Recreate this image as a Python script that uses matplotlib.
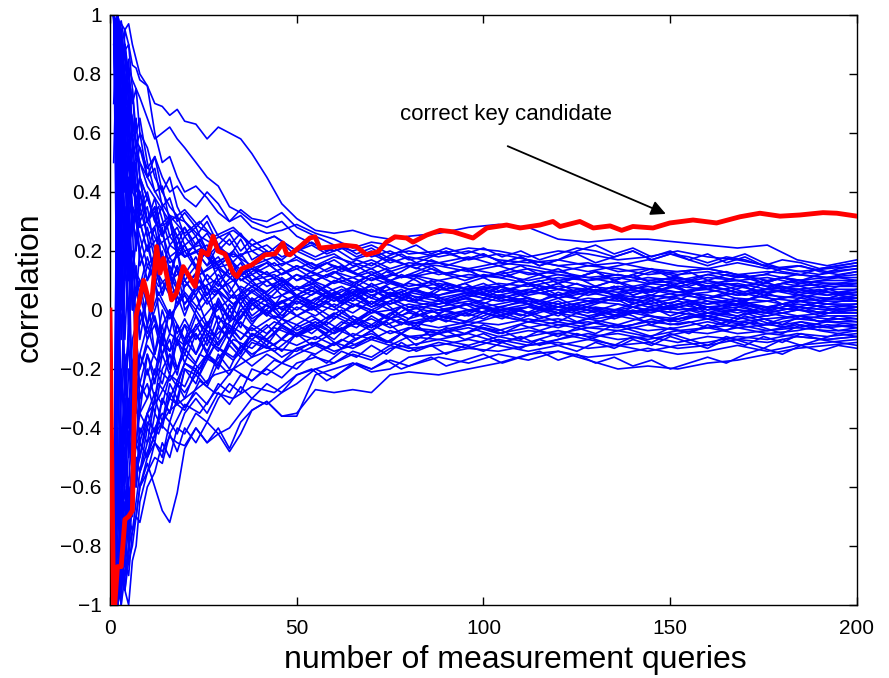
import numpy as np
import matplotlib
matplotlib.use('Agg')
import matplotlib.pyplot as plt

plt.rcParams['font.family'] = ['Liberation Sans', 'DejaVu Sans']

# 横轴采样点（查询次数）
queries = [1, 2, 3, 4, 5, 6, 7, 8, 10, 12, 14, 16, 18, 20, 23, 26, 29, 32, 35, 38,
           42, 46, 50, 55, 60, 65, 70, 75, 80, 88, 96, 104, 112, 120, 128, 136, 144,
           152, 160, 168, 176, 184, 192, 200]

# 错误密钥候选的相关系数曲线
wrong_keys = [
    [1, .97, .97, .95, .97, .9, .85, .8, .76, .7, .69, .66, .68, .64, .63, .58, .62, .6, .58, .53,
     .45, .36, .31, .27, .26, .27, .25, .24, .25, .26, .28, .29, .28, .24, .23, .24, .24, .23, .22, .21, .22, .17, .15, .17],
    [.9, 1, .95, .85, .82, .78, .75, .72, .65, .58, .6, .62, .58, .55, .5, .45, .42, .35, .33, .3,
     .28, .3, .25, .22, .2, .22, .18, .2, .17, .19, .21, .2, .18, .2, .19, .17, .18, .2, .18, .17, .15, .13, .14, .15],
    [1, .9, .85, .88, .9, .83, .82, .78, .76, .6, .5, .52, .45, .4, .42, .38, .33, .3, .34, .31,
     .3, .33, .28, .25, .22, .2, .22, .19, .2, .18, .2, .17, .16, .17, .15, .16, .14, .13, .14, .12, .13, .12, .11, .13],
    [.7, 1, .6, .75, .55, .6, .5, .55, .48, .52, .45, .4, .42, .38, .35, .4, .36, .3, .32, .28,
     .26, .27, .29, .26, .24, .21, .23, .22, .19, .2, .17, .19, .17, .15, .16, .13, .14, .12, .13, .11, .12, .1, .11, .12],
    [-1, -.5, .2, .6, .7, .65, .55, .5, .45, .48, .35, .38, .3, .33, .28, .32, .25, .22, .26, .2,
     .22, .18, .2, .17, .19, .15, .17, .14, .16, .15, .13, .15, .12, .13, .11, .12, .1, .11, .09, .1, .11, .09, .1, .1],
    [1, .8, .4, .2, .35, .1, .25, .3, .2, .28, .15, .22, .25, .18, .2, .15, .18, .12, .16, .1,
     .13, .08, .12, .1, .13, .09, .12, .1, .08, .1, .07, .09, .08, .1, .08, .07, .09, .1, .08, .09, .07, .08, .09, .09],
    [-1, -.6, -.3, .1, .4, .5, .35, .45, .38, .3, .35, .25, .28, .22, .25, .18, .22, .15, .19, .14,
     .16, .12, .15, .12, .15, .13, .1, .12, .11, .13, .11, .12, .14, .12, .1, .11, .09, .08, .1, .08, .09, .07, .08, .08],
    [1, .6, .1, -.2, -.1, .15, .05, .2, .1, .15, .05, .12, .02, .08, .12, .05, .1, .04, .08, .06,
     .1, .05, .08, .06, .1, .08, .05, .07, .09, .07, .06, .08, .05, .07, .06, .08, .07, .05, .06, .08, .06, .07, .05, .07],
    [-1, -.9, -.7, -.5, -.6, -.35, -.45, -.3, -.25, -.35, -.2, -.15, -.22, -.1, -.15, -.05, -.1, 0, -.06, .02,
     -.02, .03, 0, .04, .01, .05, .02, .06, .03, .05, .07, .04, .06, .05, .07, .06, .08, .06, .07, .05, .06, .07, .06, .06],
    [1, 1, .9, .7, .5, .55, .3, .4, .25, .1, .2, .05, .15, 0, .05, -.05, .02, -.08, -.02, .03,
     -.02, .05, .02, .06, .03, .07, .04, .02, .05, .03, .06, .04, .02, .05, .03, .05, .04, .06, .05, .03, .05, .04, .06, .05],
    [-1, -1, -.8, -.85, -.6, -.7, -.5, -.55, -.4, -.45, -.3, -.35, -.25, -.3, -.2, -.25, -.15, -.2, -.12, -.16,
     -.1, -.14, -.08, -.06, -.1, -.04, -.07, -.03, -.05, -.02, -.04, 0, -.02, .01, -.01, .02, 0, .01, .03, .02, .01, .03, .02, .04],
    [1, .3, -.4, -.6, -.3, -.5, -.2, -.35, -.15, -.25, -.1, -.2, -.05, -.12, -.02, -.1, .03, -.04, .05, 0,
     .04, -.02, .03, 0, .04, .01, .05, .02, .04, .02, .05, .03, .04, .02, .04, .03, .05, .04, .02, .04, .03, .05, .04, .04],
    [-1, -.3, .5, .8, .6, .4, .5, .3, .35, .2, .28, .12, .2, .1, .15, .05, .12, .08, .02, .07,
     .03, .08, .05, .02, .06, .03, .07, .04, .01, .03, 0, .02, .04, .01, .03, .02, 0, .02, .04, .02, .03, .01, .03, .03],
    [1, .9, .6, .3, 0, -.2, -.1, -.3, -.2, -.3, -.15, -.22, -.1, -.18, -.08, -.15, -.05, -.1, 0, -.05,
     .02, -.03, .05, .02, 0, .04, .01, .03, 0, .02, .04, .01, .03, 0, .02, .04, .01, .03, .01, .02, 0, .02, .01, .02],
    [-1, -.8, -.95, -.7, -.75, -.55, -.6, -.45, -.5, -.35, -.4, -.28, -.32, -.2, -.25, -.15, -.2, -.1, -.14, -.08,
     -.12, -.05, -.09, -.06, -.02, -.05, 0, -.03, .01, -.01, .02, 0, .01, -.01, .01, 0, .02, 0, .01, -.01, .01, 0, .02, .01],
    [.5, 1, .8, .9, .7, .6, .65, .45, .3, .35, .15, .1, .2, .05, 0, .08, -.05, .02, -.03, .04,
     -.01, .03, -.02, .01, -.03, .02, -.01, 0, -.03, 0, -.02, .01, -.01, .01, 0, -.02, 0, -.01, .01, 0, -.01, .01, 0, 0],
    [-1, -1, -.9, -.95, -.85, -.8, -.7, -.72, -.6, -.55, -.45, -.5, -.4, -.42, -.35, -.38, -.3, -.25, -.28, -.2,
     -.22, -.18, -.15, -.12, -.15, -.1, -.08, -.11, -.06, -.08, -.05, -.07, -.04, -.06, -.03, -.05, -.02, -.04, -.01, -.03, -.02, 0, -.01, 0],
    [1, .5, .7, .2, .4, 0, .15, -.1, .05, -.15, -.05, -.2, -.1, -.15, -.05, -.12, -.02, -.08, .02, -.04,
     0, -.05, -.02, -.05, -.01, -.04, 0, -.03, -.01, -.03, 0, -.02, -.04, -.01, -.03, 0, -.02, -.03, -.01, -.02, 0, -.02, -.01, -.01],
    [-1, .2, .7, .95, .9, .75, .6, .65, .5, .4, .42, .3, .25, .28, .2, .22, .15, .18, .1, .12,
     .08, .1, .05, .08, .04, .06, .02, .05, .03, .01, .03, 0, .02, -.01, .01, -.02, 0, -.01, -.02, 0, -.01, -.03, -.02, -.02],
    [1, -.2, -.6, -.4, -.7, -.5, -.6, -.4, -.45, -.3, -.38, -.25, -.3, -.2, -.22, -.15, -.18, -.1, -.15, -.08,
     -.1, -.06, -.09, -.05, -.08, -.04, -.06, -.03, -.05, -.03, -.05, -.02, -.04, -.03, -.05, -.02, -.04, -.03, -.02, -.04, -.03, -.02, -.03, -.03],
    [-1, -.7, -.2, -.45, 0, -.25, -.1, -.2, -.1, -.02, -.12, 0, -.08, -.03, -.1, -.04, -.12, -.06, -.1, -.05,
     -.08, -.03, -.07, -.04, -.08, -.05, -.03, -.06, -.04, -.06, -.04, -.05, -.03, -.05, -.04, -.06, -.04, -.05, -.03, -.04, -.05, -.03, -.04, -.04],
    [1, 1, .85, .5, .2, .3, -.1, .05, -.05, .1, -.1, 0, -.12, -.05, -.15, -.08, -.12, -.05, -.1, -.06,
     -.1, -.05, -.08, -.1, -.06, -.09, -.05, -.08, -.06, -.07, -.05, -.08, -.06, -.04, -.06, -.05, -.07, -.06, -.04, -.06, -.05, -.06, -.04, -.05],
    [-1, -1, -.95, -.85, -.9, -.75, -.7, -.6, -.55, -.5, -.52, -.42, -.48, -.4, -.45, -.38, -.42, -.4, -.35, -.3,
     -.32, -.28, -.25, -.2, -.18, -.15, -.17, -.13, -.12, -.1, -.12, -.09, -.11, -.08, -.1, -.07, -.09, -.07, -.08, -.06, -.08, -.07, -.05, -.06],
    [-1, -1, -.9, -.95, -.8, -.75, -.7, -.6, -.52, -.6, -.68, -.72, -.62, -.47, -.4, -.45, -.4, -.47, -.38, -.34,
     -.31, -.36, -.35, -.27, -.28, -.27, -.28, -.22, -.21, -.22, -.2, -.18, -.15, -.14, -.17, -.2, -.19, -.2, -.18, -.17, -.15, -.13, -.12, -.11],
    [-1, -.85, -1, -.9, -.8, -.65, -.55, -.6, -.5, -.45, -.48, -.43, -.45, -.46, -.4, -.45, -.42, -.48, -.42, -.34,
     -.31, -.36, -.36, -.22, -.2, -.18, -.21, -.2, -.16, -.15, -.13, -.14, -.12, -.11, -.13, -.12, -.14, -.12, -.11, -.09, -.1, -.08, -.09, -.08],
    [1, .1, -.5, -.8, -.65, -.7, -.5, -.55, -.45, -.4, -.35, -.38, -.3, -.33, -.28, -.32, -.25, -.28, -.22, -.24,
     -.2, -.23, -.18, -.16, -.18, -.14, -.16, -.12, -.14, -.11, -.13, -.1, -.12, -.1, -.08, -.1, -.09, -.11, -.09, -.1, -.08, -.09, -.1, -.09],
    [-1, .5, .2, -.3, -.1, -.4, -.3, -.45, -.35, -.28, -.32, -.22, -.26, -.18, -.2, -.15, -.19, -.12, -.16, -.11,
     -.13, -.1, -.12, -.09, -.12, -.08, -.1, -.07, -.09, -.08, -.06, -.09, -.07, -.08, -.06, -.07, -.05, -.07, -.06, -.05, -.07, -.06, -.07, -.07],
    [1, .95, .98, .9, .8, .7, .75, .6, .55, .45, .4, .35, .32, .25, .28, .2, .15, .18, .12, .15,
     .12, .14, .1, .12, .09, .11, .13, .1, .12, .1, .12, .11, .09, .11, .1, .12, .1, .09, .11, .1, .08, .1, .09, .09],
    [-1, 1, .5, .3, .45, .25, .35, .15, .22, .12, .18, .08, .15, .1, .05, .12, .08, .14, .1, .13,
     .16, .12, .14, .1, .13, .11, .08, .1, .07, .09, .07, .08, .06, .08, .07, .05, .07, .06, .08, .06, .07, .05, .07, .07],
    [1, .7, .9, .6, .7, .45, .5, .35, .4, .3, .25, .32, .22, .28, .22, .26, .2, .24, .18, .22,
     .19, .23, .18, .15, .18, .16, .14, .17, .15, .16, .14, .16, .15, .13, .15, .14, .12, .13, .14, .12, .1, .12, .11, .11],
    [-1, -.4, -.8, -.55, -.35, -.45, -.25, -.35, -.3, -.2, -.25, -.15, -.2, -.12, -.08, -.14, -.06, -.1, -.04, -.09,
     -.05, -.1, -.06, -.03, -.07, -.02, -.05, -.01, -.04, -.02, 0, -.02, .01, -.01, .01, -.01, 0, .02, 0, .01, -.01, .01, 0, .01],
    [1, .8, .55, .65, .4, .5, .3, .2, .1, .2, .05, .15, .08, .12, .18, .1, .14, .06, .12, .09,
     .06, .11, .07, .09, .05, .08, .06, .09, .07, .05, .08, .06, .09, .07, .05, .07, .06, .08, .07, .05, .07, .06, .05, .06],
    [-1, -.95, -.6, -.3, -.5, -.2, -.35, -.15, -.05, -.15, 0, -.08, .05, -.02, .08, .02, .06, 0, .04, -.02,
     .02, -.03, .01, -.02, .02, -.01, .03, 0, .02, 0, .02, -.01, .01, 0, -.02, 0, -.01, .01, -.01, 0, -.02, 0, -.01, -.01],
    [1, 1, .95, .8, .65, .75, .55, .6, .45, .52, .4, .45, .35, .3, .25, .3, .22, .26, .2, .24,
     .2, .17, .21, .18, .21, .17, .19, .16, .18, .16, .18, .15, .17, .15, .13, .15, .17, .15, .14, .16, .14, .15, .13, .14],
    [-1, -.6, -.85, -.95, -1, -.85, -.8, -.65, -.55, -.45, -.5, -.38, -.42, -.35, -.3, -.35, -.28, -.32, -.26, -.3,
     -.25, -.28, -.22, -.2, -.23, -.18, -.2, -.17, -.19, -.16, -.18, -.15, -.17, -.14, -.16, -.15, -.13, -.15, -.14, -.12, -.14, -.12, -.11, -.1],
    [1, .4, 0, .3, .1, .35, .2, .4, .3, .35, .25, .3, .2, .25, .2, .15, .22, .18, .24, .17,
     .2, .15, .18, .14, .17, .13, .16, .13, .15, .12, .14, .12, .1, .12, .11, .09, .11, .1, .12, .1, .08, .1, .09, .08],
    [-1, -1, -.75, -.6, -.8, -.6, -.45, -.5, -.35, -.42, -.3, -.35, -.25, -.28, -.22, -.26, -.18, -.22, -.16, -.19,
     -.15, -.18, -.13, -.15, -.11, -.13, -.1, -.12, -.09, -.1, -.08, -.11, -.09, -.07, -.09, -.08, -.1, -.08, -.06, -.08, -.07, -.05, -.06, -.05],
    [1, .6, .85, .45, .2, .1, -.15, 0, -.1, -.05, -.15, -.1, -.2, -.13, -.18, -.1, -.14, -.07, -.12, -.15,
     -.12, -.16, -.13, -.11, -.14, -.12, -.09, -.11, -.13, -.12, -.1, -.12, -.14, -.12, -.1, -.12, -.11, -.13, -.12, -.1, -.11, -.09, -.1, -.09],
    [-1, .8, .95, .7, .85, .6, .4, .45, .3, .38, .25, .3, .18, .22, .15, .2, .1, .14, .06, .1,
     .05, .09, .04, .07, .03, .06, .08, .05, .07, .04, .06, .05, .07, .04, .06, .04, .03, .05, .04, .06, .04, .03, .04, .03],
    [1, .9, .3, -.1, .2, -.3, -.15, -.25, -.15, -.22, -.08, -.14, -.05, -.1, 0, -.06, .04, -.03, .06, .02,
     .05, 0, .04, .01, .05, .02, 0, .03, .06, .04, .02, .05, .03, .01, .03, .05, .02, .04, .02, .03, .01, .03, .02, .02],
]

# 第二组错误密钥（更密的采样点）
queries2 = [1, 2, 3, 4, 5, 6, 8, 10, 13, 16, 20, 24, 28, 33, 38, 44, 50, 54, 58, 62, 66, 70, 74,
            78, 82, 86, 90, 95, 100, 105, 110, 115, 120, 125, 130, 135, 140, 145, 150, 155, 160,
            165, 170, 175, 180, 185, 190, 195, 200]

wrong_keys2 = [
    [1, .8, .55, .7, .5, .45, .4, .3, .35, .22, .18, .24, .15, .2, .12, .16, .1, .13, .11, .14, .12, .1, .13, .11, .12, .14, .12,
     .1, .12, .11, .13, .12, .1, .11, .13, .12, .11, .13, .12, .1, .12, .13, .11, .12, .14, .13, .12, .13, .14],
    [-1, -.7, -.4, -.5, -.2, -.3, -.15, -.22, -.1, -.14, -.05, -.1, -.02, -.06, .02, -.03, .04, .01, .05, .03, .06, .02, .05, .07, .04, .06, .03,
     .05, .07, .04, .06, .08, .05, .07, .06, .08, .05, .07, .09, .06, .08, .07, .05, .07, .08, .06, .07, .05, .06],
    [1, 1, .7, .4, .55, .3, .2, .28, .12, .18, .08, .14, .06, .1, .03, .08, .05, .08, .04, .07, .05, .09, .06, .04, .07, .05, .08,
     .06, .04, .07, .05, .03, .06, .04, .07, .05, .03, .05, .04, .06, .04, .05, .03, .06, .04, .05, .03, .04, .05],
    [-1, -1, -.8, -.65, -.7, -.5, -.42, -.35, -.3, -.22, -.26, -.15, -.18, -.1, -.13, -.06, -.09, -.05, -.08, -.04, -.06, -.02, -.05, -.03, -.06, -.02, -.04,
     -.01, -.03, 0, -.02, .01, -.01, .02, 0, -.02, .01, -.01, .01, .03, .01, -.01, .02, 0, .02, .01, -.01, .01, .02],
    [1, .9, .95, .75, .8, .6, .55, .45, .38, .32, .3, .25, .22, .18, .2, .15, .17, .14, .16, .13, .15, .12, .14, .11, .13, .15, .12,
     .14, .11, .13, .1, .12, .09, .11, .13, .1, .12, .09, .11, .1, .08, .1, .12, .09, .11, .1, .12, .14, .15],
    [-1, -.2, .3, .1, .25, 0, .1, -.05, .06, -.02, .05, -.04, .02, -.03, .04, 0, .03, 0, .03, -.01, .02, 0, -.02, .01, -.01, .02, 0,
     .02, -.01, .01, .03, 0, .02, -.01, .01, 0, .02, .04, .01, .03, 0, .02, .01, -.01, .01, .03, .01, 0, .01],
    [1, .6, .2, .35, .1, .2, .05, .15, .08, .12, .02, .1, .05, .12, .08, .11, .07, .1, .08, .11, .09, .12, .1, .08, .11, .09, .07,
     .09, .11, .08, .1, .07, .09, .11, .08, .1, .08, .06, .08, .1, .07, .09, .08, .1, .07, .09, .08, .06, .07],
    [-1, -.9, -.6, -.75, -.45, -.55, -.35, -.4, -.25, -.3, -.18, -.22, -.12, -.16, -.08, -.12, -.05, -.08, -.04, -.07, -.03, -.06, -.02, -.05, -.01, -.04, -.02,
     -.04, -.01, -.03, 0, -.02, -.04, -.01, -.03, -.02, 0, -.02, -.04, -.02, -.03, -.01, -.03, -.05, -.03, -.02, -.04, -.02, -.03],
    [1, .85, .9, .6, .65, .4, .35, .25, .3, .18, .22, .12, .16, .1, .14, .08, .12, .09, .12, .1, .08, .11, .09, .12, .1, .07, .09,
     .07, .09, .06, .08, .1, .07, .09, .06, .08, .05, .07, .09, .06, .08, .07, .05, .07, .09, .08, .06, .08, .09],
    [-1, -1, -.85, -.9, -.7, -.75, -.55, -.48, -.4, -.34, -.3, -.26, -.22, -.2, -.16, -.13, -.14, -.11, -.13, -.1, -.12, -.09, -.11, -.08, -.1, -.07, -.09,
     -.08, -.06, -.08, -.05, -.07, -.05, -.06, -.04, -.06, -.05, -.03, -.05, -.04, -.06, -.04, -.05, -.03, -.05, -.04, -.06, -.05, -.06],
    [1, .4, -.1, .2, -.05, .15, .1, .02, .12, .05, .1, .03, .08, .02, .06, .01, .05, .03, .06, .02, .05, .01, .04, .06, .03, .05, .02,
     .04, .06, .03, .05, .02, .04, .01, .03, .05, .02, .04, .02, .05, .03, .01, .03, .05, .02, .04, .03, .05, .04],
    [-1, .3, .6, .4, .5, .35, .3, .2, .25, .16, .2, .12, .15, .1, .14, .11, .15, .13, .16, .14, .17, .15, .18, .16, .14, .17, .15,
     .17, .19, .16, .18, .15, .17, .19, .16, .18, .2, .17, .19, .17, .15, .17, .19, .16, .14, .15, .13, .12, .13],
    [1, 1, .9, .85, .7, .65, .45, .38, .28, .3, .2, .22, .14, .16, .1, .12, .07, .09, .06, .08, .05, .07, .04, .06, .03, .05, .02,
     .04, .02, .05, .03, .01, .03, 0, .02, .04, .01, .03, 0, .02, -.01, .01, .03, 0, .02, 0, -.02, 0, .01],
    [-1, -.5, -.7, -.3, -.45, -.25, -.2, -.12, -.18, -.08, -.12, -.05, -.09, -.03, -.07, -.02, -.05, -.02, -.05, -.01, -.04, 0, -.03, .01, -.02, 0, -.03,
     -.01, .01, -.02, 0, -.03, -.01, -.04, -.02, 0, -.02, -.05, -.03, -.01, -.03, -.05, -.02, -.04, -.06, -.04, -.05, -.07, -.06],
    [1, .7, .45, .15, .3, .05, -.05, .05, -.08, 0, -.1, -.04, -.12, -.06, -.1, -.04, -.08, -.05, -.09, -.06, -.1, -.07, -.04, -.08, -.05, -.09, -.06,
     -.08, -.05, -.07, -.1, -.07, -.09, -.06, -.08, -.05, -.07, -.09, -.06, -.08, -.05, -.07, -.04, -.06, -.08, -.05, -.07, -.08, -.07],
    [-1, -1, -.9, -.8, -.85, -.6, -.5, -.38, -.42, -.3, -.34, -.24, -.28, -.2, -.24, -.17, -.2, -.15, -.18, -.14, -.16, -.12, -.15, -.11, -.14, -.12, -.15,
     -.12, -.14, -.11, -.13, -.1, -.12, -.14, -.11, -.13, -.1, -.12, -.09, -.11, -.13, -.1, -.12, -.09, -.11, -.08, -.1, -.08, -.09],
    [1, .95, .8, .9, .75, .55, .5, .42, .36, .3, .34, .28, .25, .28, .22, .25, .2, .23, .2, .22, .19, .21, .18, .2, .22, .19, .21,
     .19, .21, .18, .2, .17, .19, .21, .2, .18, .2, .17, .19, .18, .16, .18, .17, .15, .17, .16, .14, .15, .16],
    [-1, .6, .3, .5, .2, .35, .25, .15, .2, .1, .14, .07, .1, .04, .08, .02, .05, .02, .06, .03, .07, .04, .08, .05, .03, .06, .09,
     .07, .05, .08, .1, .07, .09, .06, .08, .1, .07, .09, .11, .08, .1, .08, .06, .09, .11, .09, .1, .11, .1],
    [1, .2, -.3, -.15, -.4, -.3, -.25, -.3, -.2, -.24, -.15, -.2, -.12, -.17, -.1, -.14, -.08, -.12, -.09, -.13, -.1, -.07, -.11, -.08, -.12, -.09, -.07,
     -.1, -.08, -.11, -.09, -.12, -.1, -.08, -.1, -.12, -.09, -.11, -.08, -.1, -.12, -.09, -.11, -.13, -.1, -.12, -.1, -.11, -.12],
    [-1, -.8, -.5, -.2, -.35, -.1, 0, -.08, .04, -.03, .06, 0, .07, .02, .08, .04, .07, .05, .08, .05, .09, .06, .08, .05, .07, .1, .07,
     .09, .06, .08, .05, .07, .04, .06, .08, .05, .07, .05, .08, .06, .04, .06, .08, .05, .07, .05, .03, .05, .04],
    [1, .75, .6, .45, .5, .35, .28, .3, .22, .25, .18, .2, .16, .19, .15, .18, .14, .16, .13, .15, .12, .14, .11, .13, .16, .14, .12,
     .14, .11, .13, .15, .12, .14, .11, .13, .1, .12, .14, .11, .13, .1, .12, .11, .09, .11, .1, .08, .09, .1],
    [-1, -.9, -1, -.7, -.6, -.65, -.45, -.5, -.38, -.42, -.32, -.35, -.28, -.3, -.26, -.28, -.22, -.2, -.24, -.21, -.18, -.2, -.17, -.2, -.18, -.16, -.19,
     -.17, -.15, -.18, -.16, -.14, -.17, -.15, -.18, -.16, -.19, -.17, -.2, -.18, -.16, -.18, -.15, -.13, -.15, -.12, -.14, -.12, -.13],
    [1, .5, .75, .55, .35, .45, .32, .38, .28, .32, .26, .3, .24, .27, .22, .25, .2, .22, .19, .21, .18, .2, .17, .19, .16, .18, .2,
     .17, .19, .16, .18, .15, .17, .2, .22, .19, .21, .18, .2, .17, .19, .16, .18, .15, .13, .12, .14, .15, .16],
    [-1, .9, .4, .6, .3, .15, .08, .18, .05, .12, .02, .08, -.01, .05, -.03, .02, -.02, .01, -.03, 0, -.04, -.01, .02, -.02, .01, -.03, 0,
     -.02, .01, -.01, -.03, 0, -.02, .01, -.01, -.03, -.01, .01, -.02, 0, -.02, -.04, -.01, -.03, -.05, -.02, -.04, -.03, -.04],
]

# 正确密钥候选的相关系数曲线
correct_q = [0, 1, 2, 3, 4, 5, 6, 7, 9, 11, 12.5, 13.4, 14.3, 16.5, 17.8, 19.6, 22.8, 24.5, 26.2,
             27.6, 28.9, 30.8, 33, 34, 35.3, 37.9, 41.5, 44.2, 46.3, 47.3, 48.2, 50.9, 53.5, 54.9,
             56.2, 60.2, 62.4, 66, 68.7, 71.8, 74, 76.3, 79.4, 81.1, 84.8, 88.4, 91.9, 97.2, 100.9,
             106.2, 109.8, 115.1, 118.6, 120.5, 125.8, 129.4, 133.9, 137, 140, 145.4, 149.9, 156.1,
             162.4, 168.7, 174, 179.4, 184.7, 190.9, 194.6, 200]
correct_r = [0, -1.05, -.87, -.87, -.71, -.70, -.68, -.02, .1, 0, .215, .125, .175, .034, .057, .147,
             .08, .2, .187, .25, .2, .19, .125, .113, .14, .152, .187, .19, .227, .19, .187, .215, .244,
             .248, .21, .215, .22, .215, .187, .198, .23, .248, .244, .23, .254, .27, .265, .244, .278,
             .288, .278, .288, .3, .283, .3, .278, .285, .27, .283, .278, .295, .305, .295, .316, .328,
             .318, .322, .33, .328, .318]

fig = plt.figure(figsize=(8.89, 6.78), dpi=100)
ax = fig.add_axes([0.1237, 0.1077, 0.8403, 0.8702])

for r in wrong_keys:
    ax.plot(queries, r, color='#0000ff', lw=1.2)
for r in wrong_keys2:
    ax.plot(queries2, r, color='#0000ff', lw=1.2)
ax.plot(correct_q, correct_r, color='#ff0000', lw=3.5, zorder=5)

ax.set_xlim(0, 200)
ax.set_ylim(-1, 1)
ax.set_xticks([0, 50, 100, 150, 200])
yt = [-1, -0.8, -0.6, -0.4, -0.2, 0, 0.2, 0.4, 0.6, 0.8, 1]
ax.set_yticks(yt)
ax.set_yticklabels(['−1', '−0.8', '−0.6', '−0.4', '−0.2', '0', '0.2', '0.4', '0.6', '0.8', '1'])
ax.tick_params(direction='in', top=True, right=True, length=6, width=1, labelsize=15)
ax.tick_params(axis='x', pad=10)
ax.tick_params(axis='y', pad=6)
for s in ax.spines.values():
    s.set_linewidth(1)

ax.set_xlabel('number of measurement queries', fontsize=23)
ax.set_ylabel('correlation', fontsize=23)
ax.xaxis.set_label_coords(0.542, -0.068)
ax.yaxis.set_label_coords(-0.088, 0.539)

ax.text(77.6, 0.661, 'correct key candidate', fontsize=16, va='center', ha='left')
ax.annotate('', xy=(149.5, 0.322), xytext=(105.8, 0.559),
            arrowprops=dict(arrowstyle='-|>', color='k', lw=1.3, mutation_scale=22))

fig.savefig('out.png', dpi=100)
